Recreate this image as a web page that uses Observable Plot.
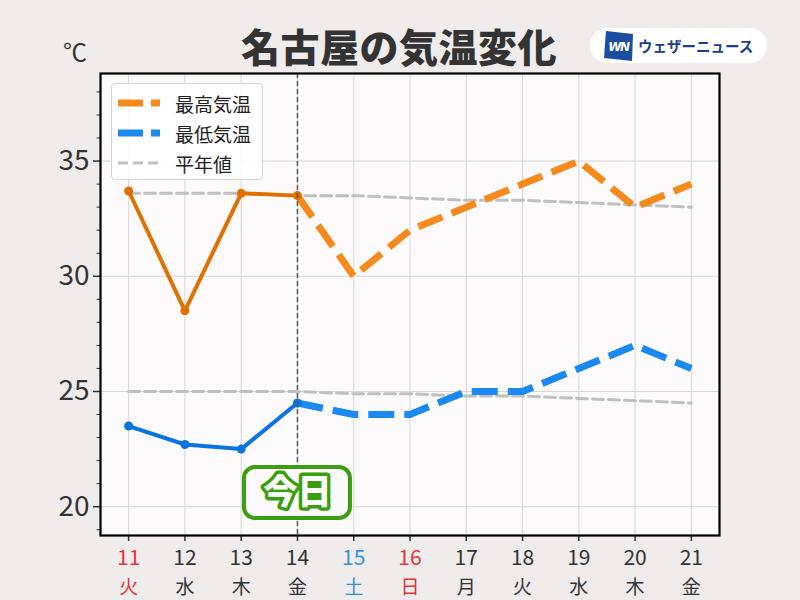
<!DOCTYPE html>
<html>
<head>
<meta charset="utf-8">
<script src="https://cdn.jsdelivr.net/npm/d3@7"></script>
<script src="https://cdn.jsdelivr.net/npm/@observablehq/plot@0.6"></script>
<style>
  html, body { margin: 0; padding: 0; background: #efeceb; }
  #wrap { position: relative; width: 800px; height: 600px; overflow: hidden; font-family: "Noto Sans CJK JP", "Noto Sans", sans-serif; }
  #title { position: absolute; left: 0; width: 798px; top: 19px; text-align: center; font-size: 39px; font-weight: 900; color: #333; line-height: 52px; letter-spacing: 0.5px; }
  #unit { position: absolute; left: 63px; top: 36px; font-size: 24px; color: #333; line-height: 30px; }
  #logo { position: absolute; left: 590px; top: 28px; width: 177px; height: 35px; border-radius: 18px; background: #fff; display: flex; align-items: center; white-space: nowrap; }
  #logo svg { margin-left: 14px; flex: none; }
  #logo span { margin-left: 4px; font-size: 14.5px; font-weight: 700; color: #1b3d8f; letter-spacing: 0px; }
  #legend { position: absolute; left: 111px; top: 83px; width: 150px; height: 95px; background: rgba(255,255,255,0.85); border: 1px solid #d6d6d6; border-radius: 4px; }
  .item { position: absolute; left: 6px; height: 30px; display: flex; align-items: center; }
  .item span { margin-left: 15px; font-size: 19px; color: #222; }
  svg.plot { position: absolute; left: 0; top: 0; }
</style>
</head>
<body>
<div id="wrap">
  <div id="title">名古屋の気温変化</div>
  <div id="unit">℃</div>
  <div id="logo">
    <svg width="30" height="32" viewBox="0 0 30 32">
      <polygon points="2,1 29,4 28,31 0,28" fill="#1a4fa0"/>
      <text x="14.5" y="21" text-anchor="middle" font-family="DejaVu Sans" font-style="italic" font-weight="bold" font-size="12" fill="#fff" letter-spacing="-1.5">WN</text>
    </svg>
    <span>ウェザーニュース</span>
  </div>
  <div id="legend">
    <div class="item" style="top:4px"><svg width="42" height="10"><line x1="0" y1="5" x2="42" y2="5" stroke="#f78a1d" stroke-width="7" stroke-dasharray="25,8"/></svg><span>最高気温</span></div>
    <div class="item" style="top:34px"><svg width="42" height="10"><line x1="0" y1="5" x2="42" y2="5" stroke="#1c89f2" stroke-width="7" stroke-dasharray="25,8"/></svg><span>最低気温</span></div>
    <div class="item" style="top:64px"><svg width="42" height="10"><line x1="0" y1="5" x2="42" y2="5" stroke="#c0c0c0" stroke-width="3" stroke-dasharray="10,5"/></svg><span>平年値</span></div>
  </div>
</div>
<script>
// ---- data ----
const days = [11, 12, 13, 14, 15, 16, 17, 18, 19, 20, 21];
const weekdays = ["火", "水", "木", "金", "土", "日", "月", "火", "水", "木", "金"];
const holidays = [11];

const obsDays = [11, 12, 13, 14];
const obsMax = [33.7, 28.5, 33.6, 33.5];
const obsMin = [23.5, 22.7, 22.5, 24.5];

const fcDays = [14, 15, 16, 17, 18, 19, 20, 21];
const fcMax = [33.5, 30, 32, 33, 34, 35, 33, 34];
const fcMin = [24.5, 24, 24, 25, 25, 26, 27, 26];

const normMax = [33.6, 33.6, 33.6, 33.5, 33.5, 33.4, 33.3, 33.3, 33.2, 33.1, 33.0];
const normMin = [25.0, 25.0, 25.0, 25.0, 24.9, 24.9, 24.8, 24.8, 24.7, 24.6, 24.5];

const majorTicks = [20, 25, 30, 35];
const todayDay = 14;
const todayText = "今日";

// ---- helpers ----
const series = (xs, ys) => xs.map((x, i) => ({x, y: ys[i]}));
const dayColor = (d, i) => weekdays[i] === "土" ? "#2f95e8" : (weekdays[i] === "日" || holidays.includes(d)) ? "#e0353a" : "#333333";
const minorTicks = d3.range(19, 39).filter(v => v % 5 !== 0);

const C = {
  obsMax: "#e07000", fcMax: "#f78a1d",
  obsMin: "#0b74de", fcMin: "#1c89f2",
  norm: "#c0c0c0", grid: "#d6d6d6", green: "#3a9e10"
};

const plot = Plot.plot({
  width: 800,
  height: 600,
  marginTop: 73,
  marginBottom: 65,
  marginLeft: 100,
  marginRight: 81,
  x: {domain: [10.5, 21.5]},
  y: {domain: [18.75, 38.8]},
  style: {fontFamily: "Noto Sans CJK JP, Noto Sans, sans-serif", background: "transparent", overflow: "visible"},
  marks: [
    Plot.frame({fill: "#fcfafb", stroke: null}),
    Plot.gridX({ticks: days, stroke: C.grid, strokeOpacity: 1, strokeWidth: 1}),
    Plot.gridY({ticks: majorTicks, stroke: C.grid, strokeOpacity: 1, strokeWidth: 1}),
    Plot.axisY({ticks: majorTicks, tickSize: 7, tickPadding: 4, fontSize: 28, color: "#333", label: null, strokeWidth: 1.5, tickFormat: d => String(d)}),
    Plot.axisY({ticks: minorTicks, tickSize: 3.5, label: null, strokeWidth: 1, color: "#333", tickFormat: () => ""}),
    Plot.axisX({ticks: days, tickSize: 6, label: null, strokeWidth: 1.5, color: "#333", tickFormat: () => ""}),
    Plot.text(days, {x: d => d, text: d => String(d), frameAnchor: "bottom", lineAnchor: "middle", dy: 23, fontSize: 21, fill: dayColor}),
    Plot.text(days, {x: d => d, text: (d, i) => weekdays[i], frameAnchor: "bottom", lineAnchor: "middle", dy: 52, fontSize: 19, fill: dayColor}),
    // normals
    Plot.line(series(days, normMax), {x: "x", y: "y", stroke: C.norm, strokeWidth: 3, strokeDasharray: "11,5"}),
    Plot.line(series(days, normMin), {x: "x", y: "y", stroke: C.norm, strokeWidth: 3, strokeDasharray: "11,5"}),
    // forecasts
    Plot.line(series(fcDays, fcMax), {x: "x", y: "y", stroke: C.fcMax, strokeWidth: 7, strokeDasharray: "26,10", strokeLinecap: "butt"}),
    Plot.line(series(fcDays, fcMin), {x: "x", y: "y", stroke: C.fcMin, strokeWidth: 7, strokeDasharray: "26,10", strokeLinecap: "butt"}),
    // observed
    Plot.line(series(obsDays, obsMax), {x: "x", y: "y", stroke: C.obsMax, strokeWidth: 4}),
    Plot.dot(series(obsDays, obsMax), {x: "x", y: "y", fill: C.obsMax, r: 4.5}),
    Plot.line(series(obsDays, obsMin), {x: "x", y: "y", stroke: C.obsMin, strokeWidth: 4}),
    Plot.dot(series(obsDays, obsMin), {x: "x", y: "y", fill: C.obsMin, r: 4.5}),
    // today rule
    Plot.ruleX([todayDay], {stroke: "#555", strokeWidth: 1.5, strokeDasharray: "5,3"}),
    Plot.frame({stroke: "#000", strokeWidth: 2.2}),
    Plot.text([todayDay], {x: d => d, text: () => todayText, frameAnchor: "bottom", lineAnchor: "middle", dy: -42, fontSize: 34, fontWeight: 900,
      fill: "#ffffff", stroke: C.green, strokeWidth: 7, strokeLinejoin: "round", paintOrder: "stroke"})
  ]
});
plot.classList.add("plot");
document.getElementById("wrap").insertBefore(plot, document.getElementById("legend"));

// label box behind "今日", placed through the plot's x scale
const xs = plot.scale("x");
const cx = xs.apply(todayDay);
const bottom = 600 - 65;
const todayNode = d3.select(plot).selectAll("text").filter(function () { return this.textContent === todayText; }).node();
const todayGroup = todayNode.parentNode;
const box = document.createElementNS("http://www.w3.org/2000/svg", "rect");
todayGroup.parentNode.insertBefore(box, todayGroup);
d3.select(box)
  .attr("x", cx - 53).attr("y", bottom - 68)
  .attr("width", 106).attr("height", 51)
  .attr("rx", 11).attr("ry", 11)
  .attr("fill", "#fcfafb").attr("stroke", C.green).attr("stroke-width", 4);
</script>
</body>
</html>
